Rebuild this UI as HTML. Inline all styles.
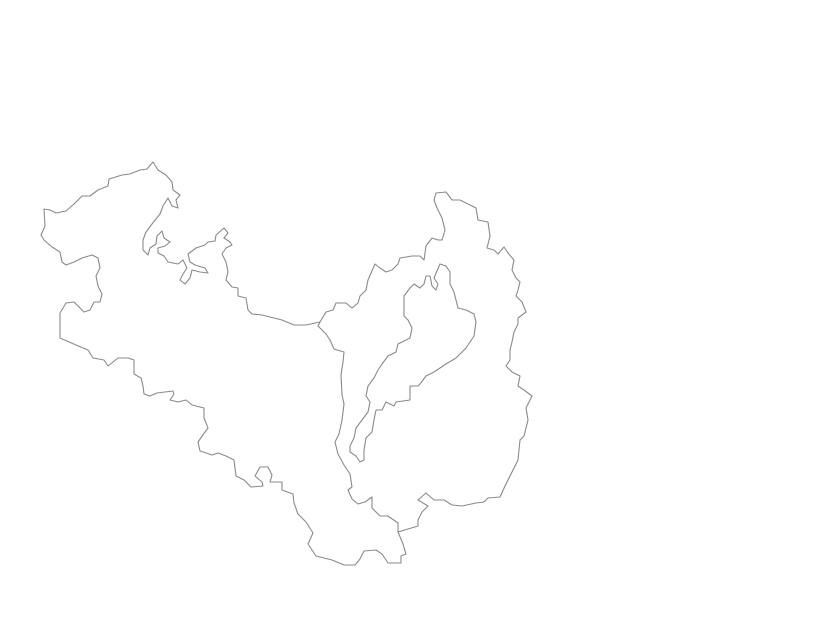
<!DOCTYPE html>
<html><head><meta charset="utf-8"><style>
html,body{margin:0;padding:0;background:#fff;width:820px;height:618px;overflow:hidden}
</style></head><body>
<svg width="820" height="618" viewBox="0 0 820 618" xmlns="http://www.w3.org/2000/svg">
<g fill="none" stroke="#8a8a8a" stroke-width="1.1" stroke-linejoin="round">
<path d="M44,209 L50,210 56,213 66,211 74,204 82,196 90,196 98,190 108,186 109,179 122,175 130,174 140,170 147,169 153,162 158,170 166,175 172,182 173,190 180,195 176,200 178,208 172,206 168,198 163,206 160,214 152,224 146,232 143,240 143,250 148,255 150,248 156,244 157,236 162,231 164,238 170,242 165,246 158,248 158,253 164,256 168,262 178,264 183,260 187,268 183,274 180,280 185,284 190,278 192,270 200,272 208,273 205,268 195,265 190,262 188,254 196,248 205,245 208,242 215,241 216,235 224,228 228,233 224,238 230,242 232,245 226,248 222,254 226,262 228,272 226,280 232,287 238,288 238,296 246,298 248,310 252,314 262,315 270,317 282,320 294,325 306,325 320,322 L318,326 326,334 330,340 334,349 344,352 343,362 341,375 342,395 344,404 342,420 339,434 335,442 338,454 344,465 350,474 352,487 348,490 352,499 358,504 365,502 372,497 372,508 380,516 388,516 398,523 398,532 403,544 406,554 401,556 401,563 388,563 382,554 376,550 364,551 360,559 355,565 344,565 332,560 316,556 308,544 313,533 306,522 298,514 294,503 293,494 282,490 282,482 270,482 272,475 268,467 260,467 255,476 262,482 263,486 251,487 244,480 236,476 234,460 226,456 218,453 212,455 200,451 198,442 205,432 208,428 204,418 204,408 192,405 186,400 178,402 170,400 174,394 173,391 165,392 157,393 150,396 144,394 143,386 141,378 134,374 134,360 128,358 118,358 108,366 104,360 93,358 88,350 76,345 60,338 60,313 66,303 74,302 84,312 90,310 94,302 100,302 102,294 98,286 96,276 100,268 98,258 92,255 82,258 74,262 66,265 62,262 60,252 52,247 44,240 41,235 45,226 Z"/>
<path d="M320,322 L326,312 333,310 336,303 346,303 352,308 358,303 360,296 366,290 368,280 375,264 380,268 386,272 392,270 398,264 400,258 412,256 420,256 424,260 426,246 432,238 438,240 442,240 445,230 442,218 437,208 434,200 436,193 446,192 452,200 460,200 470,205 476,208 478,220 488,222 490,236 487,248 494,250 498,254 504,247 508,253 514,260 512,270 516,278 520,282 518,290 516,296 522,302 526,312 518,318 518,324 514,332 512,342 510,350 510,360 506,366 512,372 520,376 518,386 524,390 532,396 526,408 528,420 524,436 520,440 518,460 514,468 510,476 505,486 500,497 488,498 484,502 476,503 462,506 452,505 444,500 434,500 426,493 418,500 428,506 422,512 418,520 418,526 398,532"/>
<path d="M404,296 L410,288 414,284 420,288 424,284 426,276 430,276 432,286 436,290 438,284 434,278 440,264 446,266 450,272 450,284 454,292 458,308 466,310 474,314 476,322 474,336 466,348 456,358 446,364 434,372 426,376 420,384 418,386 410,386 410,400 396,402 394,406 386,402 382,410 376,410 374,420 372,432 366,438 364,450 364,460 360,462 356,456 350,452 350,446 354,438 356,428 362,420 368,412 370,402 366,396 368,386 374,378 378,370 382,364 388,356 396,352 398,344 406,340 410,338 412,328 408,320 404,316 404,306 Z"/>
</g>
</svg>
</body></html>
